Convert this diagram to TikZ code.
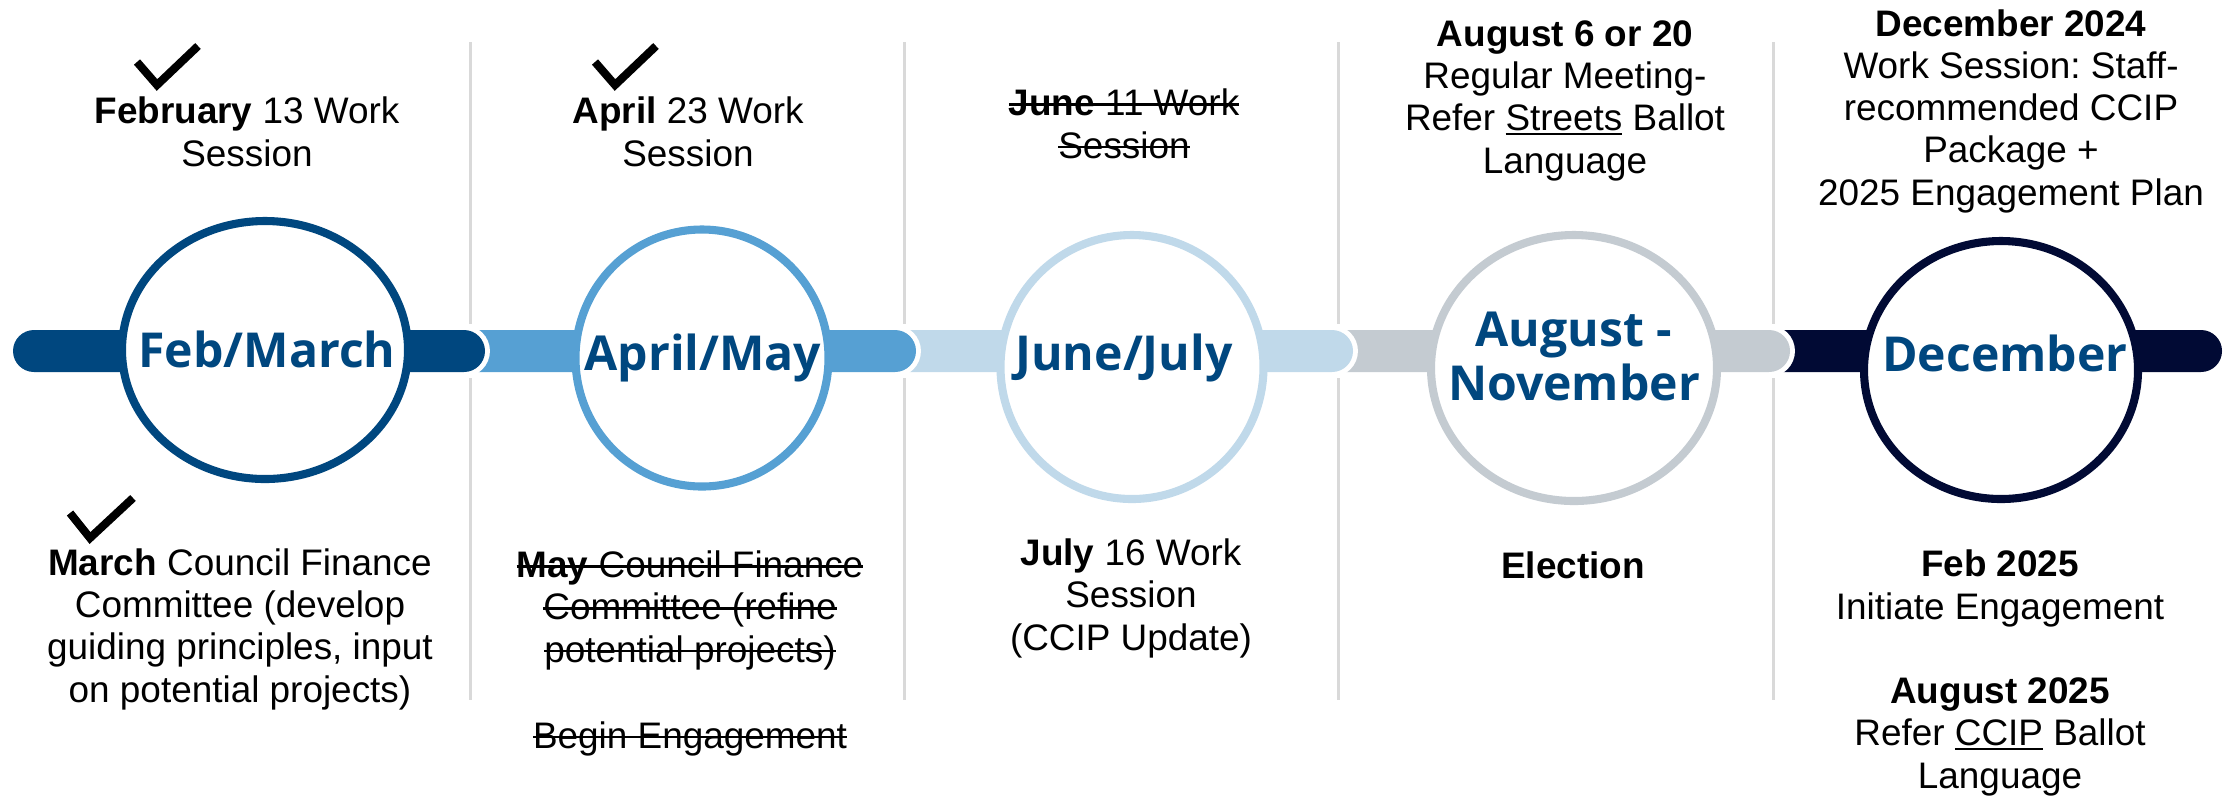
\documentclass[tikz,border=0pt]{standalone}
\usepackage{fontspec}
\setmainfont{Liberation Sans}
\newfontfamily\segoe{Open Sans}
\usetikzlibrary{shapes.geometric}
\definecolor{febblue}{RGB}{0,71,127}
\definecolor{aprblue}{RGB}{86,160,211}
\definecolor{junblue}{RGB}{192,217,234}
\definecolor{auggray}{RGB}{196,203,209}
\definecolor{decnavy}{RGB}{1,10,52}
\definecolor{sepgray}{RGB}{217,217,217}
\newsavebox\markbox
\newcommand{\strk}[1]{\sbox\markbox{#1}\rlap{\usebox\markbox}\rule[0.27em]{\wd\markbox}{0.7pt}}
\newcommand{\undl}[1]{\sbox\markbox{#1}\rlap{\usebox\markbox}\rule[-0.1em]{\wd\markbox}{0.55pt}}
\frenchspacing
\begin{document}
\begin{tikzpicture}[x=0.1mm,y=-0.1mm,
  note/.style={font=\fontsize{10.5}{12}\selectfont,align=center,anchor=base,inner sep=0pt},
  month/.style={font=\segoe\bfseries\fontsize{13.7}{15.1}\selectfont,text=febblue,align=center,anchor=base,inner sep=0pt},
  ring/.style={ellipse,draw=#1,fill=white,line width=2.3pt,inner sep=0pt},
  bar/.style={fill=#1,preaction={draw=white,line width=2.8pt},rounded corners=2.1mm},
  sep/.style={sepgray,line width=0.85pt},
  tick/.style={line width=2.3pt}]
\useasboundingbox (0,0) rectangle (2236,798);
\foreach \x in {470,904,1338,1773}{
  \draw[sep] (\x,42) -- (\x,324);
  \draw[sep] (\x,378) -- (\x,700);
}
\fill[bar=decnavy] (1750,330) rectangle (2222,372);
\fill[bar=auggray] (1310,330) rectangle (1790,372);
\fill[bar=junblue] (870,330) rectangle (1353,372);
\fill[bar=aprblue] (440,330) rectangle (916,372);
\fill[bar=febblue] (13,330) rectangle (485,372);
\node[ring=febblue,minimum width=28.6mm,minimum height=25.8mm] (febc) at (265,350) {};
\node[ring=aprblue,minimum width=25.3mm,minimum height=25.7mm] (aprc) at (702,358) {};
\node[ring=junblue,minimum width=26.3mm,minimum height=26.4mm] (junc) at (1132,367) {};
\node[ring=auggray,minimum width=28.6mm,minimum height=26.6mm] (augc) at (1574,368) {};
\node[ring=decnavy,minimum width=27.4mm,minimum height=25.8mm] (decc) at (2001,370) {};
\node[month] (feblbl) at (267,367) {Feb/March};
\node[month] (aprlbl) at (703,370) {April/May};
\node[month] (junlbl) at (1124,370) {June/July};
\node[month] (auglbl) at (1574,400) {August -\\November};
\node[month] (declbl) at (2005,371) {December};
\node[note] (febtop) at (247,166) {\textbf{February} 13 Work\\Session};
\node[note] (aprtop) at (688,166) {\textbf{April} 23 Work\\Session};
\node[note] (juntop) at (1124,158) {\strk{\textbf{June} 11 Work}\\\strk{Session}};
\node[note] (augtop) at (1565,173) {\textbf{August 6 or 20}\\Regular Meeting-\\Refer \undl{Streets} Ballot\\Language};
\node[note] (dectop) at (2011,205) {\textbf{December 2024}\\Work Session: Staff-\\recommended CCIP\\Package +\\2025 Engagement Plan};
\node[note] (febbot) at (240,702) {\textbf{March} Council Finance\\Committee (develop\\guiding principles, input\\on potential projects)};
\node[note] (maybot) at (690,662) {\strk{\textbf{May} Council Finance}\\\strk{Committee (refine}\\\strk{potential projects)}};
\node[note] (engbot) at (690,748) {\strk{Begin Engagement}};
\node[note] (julbot) at (1131,650) {\textbf{July} 16 Work\\Session\\(CCIP Update)};
\node[note] (elecbot) at (1573,578) {\textbf{Election}};
\node[note] (feb25) at (2000,619) {\textbf{Feb 2025}\\Initiate Engagement};
\node[note] (aug25) at (2000,788) {\textbf{August 2025}\\Refer \undl{CCIP} Ballot\\Language};
\draw[tick] (137,62) -- (157,85) -- (198,46);
\draw[tick] (595,62) -- (615,85) -- (656,46);
\draw[tick] (70,513) -- (90,538) -- (133,498);
\end{tikzpicture}
\end{document}
